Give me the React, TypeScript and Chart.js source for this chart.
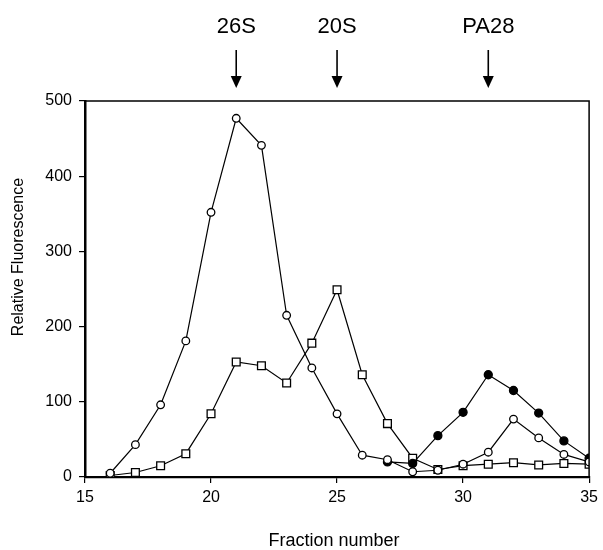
import React, { useEffect, useRef } from 'react';
import { Chart, registerables } from 'chart.js';

Chart.register(...registerables);

const fractions = [16, 17, 18, 19, 20, 21, 22, 23, 24, 25, 26, 27, 28, 29, 30, 31, 32, 33, 34, 35];
const openCircleValues = [5, 43, 96, 181, 352, 477, 441, 215, 145, 84, 29, 23, 7, 9, 17, 33, 77, 52, 30, 20];
const squareValues = [2, 6, 15, 31, 84, 153, 148, 125, 178, 249, 136, 71, 25, 10, 15, 17, 19, 16, 18, 17];
const filledFractions = [27, 28, 29, 30, 31, 32, 33, 34, 35];
const filledValues = [20, 18, 55, 86, 136, 115, 85, 48, 25];

const markerLabels = ['26S', '20S', 'PA28'];
const markerFractions = [21, 25, 31];

const xTitle = 'Fraction number';
const yTitle = 'Relative Fluorescence';

const FONT = '"Liberation Sans", Arial, Helvetica, sans-serif';

const toPoints = (xs: number[], ys: number[]) => xs.map((x, i) => ({ x, y: ys[i] }));

const overlayPlugin = {
  id: 'overlay',
  afterDraw(chart: any) {
    const { ctx, chartArea, scales } = chart;
    const xs = scales.x;
    ctx.save();
    // frame top and right
    ctx.strokeStyle = '#000';
    ctx.lineWidth = 1.5;
    ctx.beginPath();
    ctx.moveTo(chartArea.left, chartArea.top);
    ctx.lineTo(chartArea.right, chartArea.top);
    ctx.lineTo(chartArea.right, chartArea.bottom);
    ctx.stroke();

    // header labels and arrows
    ctx.fillStyle = '#000';
    ctx.font = `22px ${FONT}`;
    ctx.textAlign = 'center';
    ctx.textBaseline = 'alphabetic';
    markerLabels.forEach((lab, i) => {
      const px = xs.getPixelForValue(markerFractions[i]);
      ctx.fillText(lab, px, 33);
      ctx.lineWidth = 1.6;
      ctx.beginPath();
      ctx.moveTo(px, 50);
      ctx.lineTo(px, 78);
      ctx.stroke();
      ctx.beginPath();
      ctx.moveTo(px - 5.5, 76);
      ctx.lineTo(px + 5.5, 76);
      ctx.lineTo(px, 88);
      ctx.closePath();
      ctx.fill();
    });

    // axis titles
    ctx.font = `18px ${FONT}`;
    ctx.textAlign = 'center';
    ctx.textBaseline = 'alphabetic';
    ctx.fillText(xTitle, (chartArea.left + chartArea.right) / 2 - 3, 546);
    ctx.font = `16px ${FONT}`;
    ctx.translate(23, 257);
    ctx.rotate(-Math.PI / 2);
    ctx.fillText(yTitle, 0, 0);
    ctx.restore();
  },
};

export default function App() {
  const canvasRef = useRef<HTMLCanvasElement | null>(null);

  useEffect(() => {
    const canvas = canvasRef.current;
    if (!canvas) return;
    const common = {
      borderColor: '#000',
      borderWidth: 1.2,
      pointBorderColor: '#000',
      pointBorderWidth: 1.3,
      showLine: true,
      tension: 0,
    };
    const chart = new Chart(canvas, {
      type: 'scatter',
      data: {
        datasets: [
          {
            ...common,
            label: 'open circles',
            data: toPoints(fractions, openCircleValues),
            pointStyle: 'circle',
            pointRadius: 3.8,
            pointBackgroundColor: '#fff',
          },
          {
            ...common,
            label: 'filled circles',
            data: toPoints(filledFractions, filledValues),
            pointStyle: 'circle',
            pointRadius: 4,
            pointBackgroundColor: '#000',
          },
          {
            ...common,
            label: 'squares',
            data: toPoints(fractions, squareValues),
            pointStyle: 'rect',
            pointRadius: 5.5,
            pointBackgroundColor: '#fff',
          },
        ],
      },
      options: {
        responsive: false,
        animation: false,
        events: [],
        layout: { padding: { left: 0, right: 8, top: 101, bottom: 0 } },
        plugins: {
          legend: { display: false },
          tooltip: { enabled: false },
        },
        scales: {
          x: {
            type: 'linear',
            min: 15,
            max: 35,
            ticks: {
              stepSize: 5,
              color: '#000',
              padding: 5,
              maxRotation: 0,
              font: { size: 16, family: FONT },
            },
            grid: {
              drawOnChartArea: false,
              drawTicks: true,
              tickLength: 6,
              color: '#000',
              lineWidth: 1.2,
            },
            border: { display: true, color: '#000', width: 2.2 },
            afterFit: (scale: any) => {
              scale.height = 73;
            },
          },
          y: {
            type: 'linear',
            min: 0,
            max: 500,
            ticks: {
              stepSize: 100,
              color: '#000',
              padding: 7,
              font: { size: 16, family: FONT },
            },
            grid: {
              drawOnChartArea: false,
              drawTicks: true,
              tickLength: 6,
              color: '#000',
              lineWidth: 1.2,
            },
            border: { display: true, color: '#000', width: 2.5 },
            afterFit: (scale: any) => {
              scale.width = 85;
            },
          },
        },
      },
      plugins: [overlayPlugin],
    });
    return () => chart.destroy();
  }, []);

  return (
    <div style={{ position: 'absolute', left: 0, top: 0, width: 603, height: 550, background: '#fff' }}>
      <canvas ref={canvasRef} width={603} height={550} style={{ display: 'block' }} />
    </div>
  );
}
